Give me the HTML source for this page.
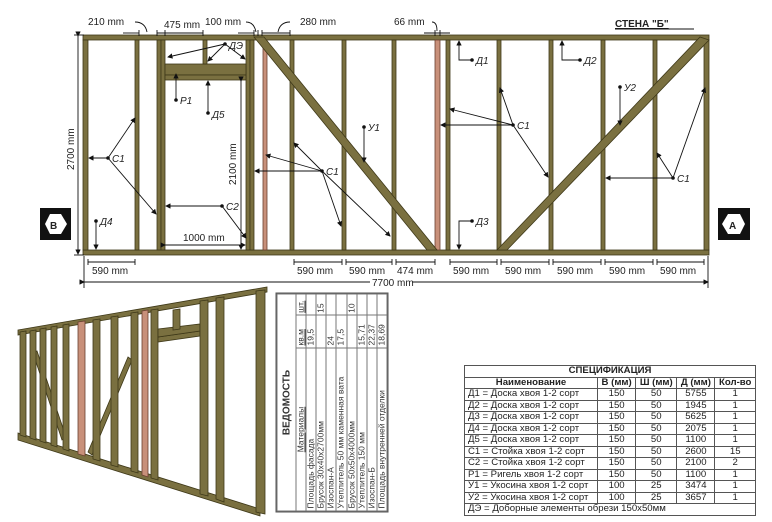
<!DOCTYPE html>
<html><head><meta charset="utf-8"><style>
body{margin:0;width:772px;height:522px;background:#fff;overflow:hidden;position:relative;font-family:"Liberation Sans","DejaVu Sans",sans-serif}
svg{position:absolute;left:0;top:0}
.w{fill:#7a7040;stroke:#3e3818;stroke-width:0.8}
.p{fill:#c8907a;stroke:#6a4030;stroke-width:0.8}
.l{stroke:#111;stroke-width:0.9;fill:none}
text{font-family:"Liberation Sans","DejaVu Sans",sans-serif;font-size:10px;fill:#222}
.it{font-style:italic}
#ved{position:absolute;left:221.5px;top:345.5px;width:220px;height:113px;transform:rotate(-90deg);border:1px solid #555;box-sizing:border-box;font-size:8.5px;color:#333}
#ved table{border-collapse:collapse;width:100%;height:100%}
#ved td{border:1px solid #777;padding:0 2px;line-height:9px;white-space:nowrap}
#spec{position:absolute;left:464px;top:365px;width:292px;height:150px;border-collapse:collapse;font-size:9.6px;color:#222}
#spec td{border:1px solid #555;padding:0 3px;height:10.5px;line-height:10px;text-align:center;white-space:nowrap}
#spec td.n{text-align:left}
</style></head><body>
<svg width="772" height="522" viewBox="0 0 772 522">
<defs><marker id="a" markerWidth="6" markerHeight="6" refX="5" refY="3" orient="auto"><path d="M0,0L6,3L0,6z" fill="#111"/></marker></defs>
<!-- wall frame -->
<rect class="w" x="83" y="35" width="626" height="5"/>
<rect class="w" x="83" y="250" width="626" height="5"/>
<rect class="w" x="83" y="40" width="5" height="210"/>
<rect class="w" x="135" y="40" width="4" height="210"/>
<rect class="w" x="157" y="40" width="4" height="210"/>
<rect class="w" x="161" y="40" width="4" height="210"/>
<rect class="w" x="246" y="40" width="4" height="210"/>
<rect class="w" x="250" y="40" width="4" height="210"/>
<rect class="p" x="263" y="40" width="4" height="210"/>
<rect class="w" x="290" y="40" width="4" height="210"/>
<rect class="w" x="342" y="40" width="4" height="210"/>
<rect class="w" x="392" y="40" width="4" height="210"/>
<rect class="p" x="435" y="40" width="5" height="210"/>
<rect class="w" x="446" y="40" width="4" height="210"/>
<rect class="w" x="497" y="40" width="4" height="210"/>
<rect class="w" x="549" y="40" width="4" height="210"/>
<rect class="w" x="601" y="40" width="4" height="210"/>
<rect class="w" x="653" y="40" width="4" height="210"/>
<rect class="w" x="704" y="40" width="5" height="210"/>
<rect class="w" x="165" y="64" width="81" height="11"/>
<rect class="w" x="165" y="75" width="81" height="5"/>
<rect class="w" x="203" y="40" width="4" height="24"/>
<polygon class="w" points="254,37 264,37 437,250 427,250"/>
<polygon class="w" points="497,250 507,250 709,40 700,37"/>
<!-- dimension lines -->
<g class="l">
<line x1="78" y1="36" x2="78" y2="254" marker-start="url(#a)" marker-end="url(#a)"/>
<line x1="74" y1="35" x2="84" y2="35"/><line x1="74" y1="255" x2="84" y2="255"/>
<line x1="84" y1="282" x2="708" y2="282" marker-start="url(#a)" marker-end="url(#a)"/>
<line x1="84" y1="256" x2="84" y2="288"/><line x1="708" y1="256" x2="708" y2="288"/>
<line x1="88" y1="262" x2="135" y2="262"/><line x1="294" y1="262" x2="342" y2="262"/><line x1="346" y1="262" x2="392" y2="262"/><line x1="396" y1="262" x2="435" y2="262"/><line x1="450" y1="262" x2="497" y2="262"/><line x1="501" y1="262" x2="549" y2="262"/><line x1="553" y1="262" x2="601" y2="262"/><line x1="605" y1="262" x2="653" y2="262"/><line x1="657" y1="262" x2="704" y2="262"/>
<path d="M88,259v6M135,259v6M294,259v6M342,259v6M346,259v6M392,259v6M396,259v6M435,259v6M450,259v6M497,259v6M501,259v6M549,259v6M553,259v6M601,259v6M605,259v6M653,259v6M657,259v6M704,259v6"/>
<line x1="123" y1="33" x2="139" y2="33"/><line x1="157" y1="33" x2="203" y2="33"/><line x1="238" y1="33" x2="254" y2="33"/><line x1="262" y1="33" x2="290" y2="33"/><line x1="424" y1="33" x2="450" y2="33"/>
<path d="M139,30v6M157,30v6M165,30v6M203,30v6M254,30v6M258,30v6M262,30v6M290,30v6M435,30v6M440,30v6"/>
<path d="M135,22q10,0 12,10M246,22q8,0 10,10M290,22q-10,0 -12,10M432,22q5,0 5,9"/>
<line x1="165" y1="245" x2="245" y2="245" marker-start="url(#a)" marker-end="url(#a)"/>
<line x1="241" y1="81" x2="241" y2="249" marker-start="url(#a)" marker-end="url(#a)"/>
<!-- leaders -->
<line x1="225" y1="44" x2="168" y2="57" marker-end="url(#a)"/><line x1="225" y1="44" x2="208" y2="61" marker-end="url(#a)"/><line x1="225" y1="44" x2="245" y2="59" marker-end="url(#a)"/>
<line x1="176" y1="100" x2="176" y2="74" marker-end="url(#a)"/>
<line x1="208" y1="113" x2="208" y2="81" marker-end="url(#a)"/>
<line x1="108" y1="158" x2="89" y2="158" marker-end="url(#a)"/><line x1="108" y1="158" x2="135" y2="118" marker-end="url(#a)"/><line x1="108" y1="158" x2="156" y2="214" marker-end="url(#a)"/>
<line x1="96" y1="221" x2="96" y2="249" marker-end="url(#a)"/>
<line x1="222" y1="206" x2="166" y2="206" marker-end="url(#a)"/><line x1="222" y1="206" x2="246" y2="238" marker-end="url(#a)"/>
<line x1="322" y1="171" x2="255" y2="171" marker-end="url(#a)"/><line x1="322" y1="171" x2="266" y2="155" marker-end="url(#a)"/><line x1="322" y1="171" x2="294" y2="143" marker-end="url(#a)"/><line x1="322" y1="171" x2="341" y2="226" marker-end="url(#a)"/><line x1="322" y1="171" x2="390" y2="236" marker-end="url(#a)"/>
<line x1="364" y1="127" x2="364" y2="162" marker-end="url(#a)"/>
<line x1="513" y1="125" x2="441" y2="125" marker-end="url(#a)"/><line x1="513" y1="125" x2="450" y2="109" marker-end="url(#a)"/><line x1="513" y1="125" x2="500" y2="88" marker-end="url(#a)"/><line x1="513" y1="125" x2="548" y2="177" marker-end="url(#a)"/>
<polyline points="472,60 459,60 459,41" marker-end="url(#a)"/>
<polyline points="580,60 562,60 562,41" marker-end="url(#a)"/>
<polyline points="472,221 459,221 459,249" marker-end="url(#a)"/>
<line x1="620" y1="87" x2="620" y2="125" marker-end="url(#a)"/>
<line x1="673" y1="178" x2="606" y2="178" marker-end="url(#a)"/><line x1="673" y1="178" x2="657" y2="153" marker-end="url(#a)"/><line x1="673" y1="178" x2="705" y2="88" marker-end="url(#a)"/>
</g>
<g fill="#111"><circle cx="225" cy="44" r="1.8"/><circle cx="176" cy="100" r="1.8"/><circle cx="208" cy="113" r="1.8"/><circle cx="108" cy="158" r="1.8"/><circle cx="96" cy="221" r="1.8"/><circle cx="222" cy="206" r="1.8"/><circle cx="322" cy="171" r="1.8"/><circle cx="364" cy="127" r="1.8"/><circle cx="513" cy="125" r="1.8"/><circle cx="472" cy="60" r="1.8"/><circle cx="580" cy="60" r="1.8"/><circle cx="472" cy="221" r="1.8"/><circle cx="620" cy="87" r="1.8"/><circle cx="673" cy="178" r="1.8"/></g>
<g class="it">
<text x="229" y="49">ДЭ</text><text x="180" y="104">Р1</text><text x="212" y="118">Д5</text><text x="112" y="162">С1</text><text x="100" y="225">Д4</text><text x="226" y="210">С2</text><text x="326" y="175">С1</text><text x="368" y="131">У1</text><text x="517" y="129">С1</text><text x="476" y="64">Д1</text><text x="584" y="64">Д2</text><text x="476" y="225">Д3</text><text x="624" y="91">У2</text><text x="677" y="182">С1</text>
</g>
<text x="88" y="25">210 mm</text><text x="164" y="28">475 mm</text><text x="205" y="25" font-size="9">100 mm</text><text x="300" y="25">280 mm</text><text x="394" y="25">66 mm</text>
<text x="183" y="241">1000 mm</text>
<text transform="translate(236,185) rotate(-90)">2100 mm</text>
<text transform="translate(74,170) rotate(-90)">2700 mm</text>
<g><text x="92" y="274">590 mm</text><text x="297" y="274">590 mm</text><text x="349" y="274">590 mm</text><text x="397" y="274">474 mm</text><text x="453" y="274">590 mm</text><text x="505" y="274">590 mm</text><text x="557" y="274">590 mm</text><text x="609" y="274">590 mm</text><text x="660" y="274">590 mm</text></g>
<rect x="370" y="276" width="42" height="11" fill="#fff"/><text x="372" y="286">7700 mm</text>
<text x="615" y="27" font-weight="bold" font-size="12.5" text-decoration="underline">СТЕНА "Б"</text>
<line x1="615" y1="29" x2="694" y2="29" stroke="#111" stroke-width="1"/>
<!-- badges -->
<rect x="40" y="208" width="31" height="32" fill="#111"/>
<polygon points="45,224 50,214 61,214 67,224 61,234 50,234" fill="#fff"/>
<text x="50" y="229" font-weight="bold" font-size="12" fill="#111">B</text>
<rect x="718" y="208" width="32" height="32" fill="#111"/>
<polygon points="722,224 728,214 740,214 745,224 740,234 728,234" fill="#fff"/>
<text x="729" y="229" font-weight="bold" font-size="12" fill="#111">A</text>
<!-- 3D view -->
<polygon class="w" points="18,330 267,287 267,292 18,335"/>
<polygon class="w" points="18,433 260,509 260,516 18,440"/>
<polygon class="w" points="33,353 37,351 66,437 62,440"/>
<polygon class="w" points="128,357 132,360 92,455 88,452"/>
<g>
<polygon class="w" points="20,332 26,331 26,437 20,435"/>
<polygon class="w" points="30,331 36,330 36,440 30,438"/>
<polygon class="w" points="40,329 46,328 46,443 40,441"/>
<polygon class="w" points="51,327 57,326 57,447 51,445"/>
<polygon class="w" points="63,325 69,324 69,451 63,449"/>
<polygon class="p" points="78,322 85,321 85,456 78,454"/>
<polygon class="w" points="93,320 100,319 100,461 93,459"/>
<polygon class="w" points="111,317 118,316 118,467 111,465"/>
<polygon class="w" points="131,313 138,312 138,473 131,471"/>
<polygon class="p" points="142,311 148,310 148,477 142,475"/>
<polygon class="w" points="151,310 158,309 158,480 151,478"/>
<polygon class="w" points="158,337 200,331 200,336 158,342"/>
<polygon class="w" points="158,329 200,324 200,331 158,337"/>
<polygon class="w" points="173,310 180,309 180,329 173,330"/>
<polygon class="w" points="200,301 208,300 208,496 200,494"/>
<polygon class="w" points="216,298 224,297 224,502 216,499"/>
<polygon class="w" points="256,291 265,290 265,514 256,512"/>
</g>
</svg>
<div id="ved"><table>
<tr><td colspan="3" style="text-align:center;font-weight:bold;font-size:10px;height:18px">ВЕДОМОСТЬ</td></tr>
<tr><td style="text-align:center;text-decoration:underline;width:158px">Материалы</td><td style="text-decoration:underline">кв.м</td><td style="text-decoration:underline">шт.</td></tr>
<tr><td>Площадь фасада</td><td>19,5</td><td></td></tr>
<tr><td>Брусок 30х40х2700мм</td><td></td><td>15</td></tr>
<tr><td>Изоспан-А</td><td>24</td><td></td></tr>
<tr><td>Утеплитель 50 мм каменная вата</td><td>17,5</td><td></td></tr>
<tr><td>Брусок 50х50х4000мм</td><td></td><td>10</td></tr>
<tr><td>Утеплитель 150 мм</td><td>15,71</td><td></td></tr>
<tr><td>Изоспан-Б</td><td>22,37</td><td></td></tr>
<tr><td>Площадь внутренней отделки</td><td>18,69</td><td></td></tr>
</table></div>
<table id="spec">
<tr><td colspan="5" style="font-weight:bold">СПЕЦИФИКАЦИЯ</td></tr>
<tr style="font-weight:bold"><td style="width:126px">Наименование</td><td>В (мм)</td><td>Ш (мм)</td><td>Д (мм)</td><td>Кол-во</td></tr>
<tr><td class="n">Д1 = Доска хвоя 1-2 сорт</td><td>150</td><td>50</td><td>5755</td><td>1</td></tr>
<tr><td class="n">Д2 = Доска хвоя 1-2 сорт</td><td>150</td><td>50</td><td>1945</td><td>1</td></tr>
<tr><td class="n">Д3 = Доска хвоя 1-2 сорт</td><td>150</td><td>50</td><td>5625</td><td>1</td></tr>
<tr><td class="n">Д4 = Доска хвоя 1-2 сорт</td><td>150</td><td>50</td><td>2075</td><td>1</td></tr>
<tr><td class="n">Д5 = Доска хвоя 1-2 сорт</td><td>150</td><td>50</td><td>1100</td><td>1</td></tr>
<tr><td class="n">С1 = Стойка хвоя 1-2 сорт</td><td>150</td><td>50</td><td>2600</td><td>15</td></tr>
<tr><td class="n">С2 = Стойка хвоя 1-2 сорт</td><td>150</td><td>50</td><td>2100</td><td>2</td></tr>
<tr><td class="n">Р1 = Ригель хвоя 1-2 сорт</td><td>150</td><td>50</td><td>1100</td><td>1</td></tr>
<tr><td class="n">У1 = Укосина хвоя 1-2 сорт</td><td>100</td><td>25</td><td>3474</td><td>1</td></tr>
<tr><td class="n">У2 = Укосина хвоя 1-2 сорт</td><td>100</td><td>25</td><td>3657</td><td>1</td></tr>
<tr><td class="n" colspan="5">ДЭ = Доборные элементы обрези 150х50мм</td></tr>
</table>
</body></html>
